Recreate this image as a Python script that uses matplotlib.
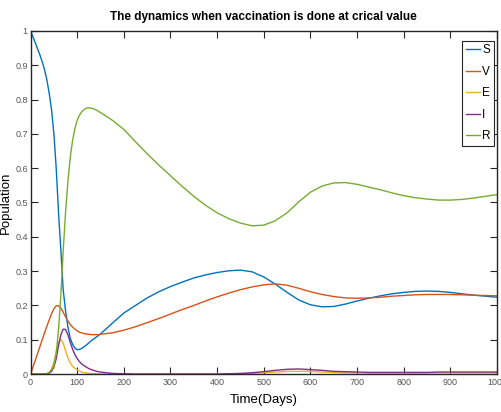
import matplotlib
matplotlib.use("Agg")
import matplotlib.pyplot as plt
import numpy as np

# time points (days)
t = [0, 5, 10, 15, 20, 25, 30, 35, 40, 45, 50, 55, 60, 65, 70, 75, 80, 85, 90, 95,
     100, 105, 110, 115, 120, 125, 130, 135, 140, 145, 150,
     175, 200, 225, 250, 275, 300, 325, 350, 375, 400, 425, 450, 475, 500,
     525, 550, 575, 600, 625, 650, 675, 700, 725, 750, 775, 800, 825, 850,
     875, 900, 925, 950, 975, 1000]

S = [1.0, 0.983, 0.966, 0.948, 0.93, 0.91, 0.887, 0.857, 0.818, 0.77, 0.70, 0.60,
     0.47, 0.36, 0.245, 0.185, 0.138, 0.105, 0.087, 0.076,
     0.071, 0.072, 0.075, 0.08, 0.085, 0.091, 0.097, 0.102, 0.107, 0.112, 0.117,
     0.148, 0.178, 0.2, 0.222, 0.24, 0.255, 0.268, 0.28, 0.289, 0.296, 0.301,
     0.303, 0.298, 0.283, 0.262, 0.238, 0.216, 0.202, 0.196, 0.197, 0.204, 0.213,
     0.221, 0.228, 0.234, 0.238, 0.241, 0.242, 0.241, 0.238, 0.234, 0.23, 0.227,
     0.224]

V = [0.0, 0.02, 0.04, 0.06, 0.08, 0.1, 0.12, 0.14, 0.158, 0.176, 0.19, 0.199,
     0.199, 0.192, 0.18, 0.167, 0.155, 0.145, 0.137, 0.131,
     0.126, 0.122, 0.12, 0.118, 0.117, 0.116, 0.115, 0.115, 0.115, 0.115, 0.116,
     0.12, 0.128, 0.138, 0.15, 0.162, 0.175, 0.188, 0.2, 0.213, 0.225, 0.236,
     0.246, 0.254, 0.26, 0.263, 0.259, 0.25, 0.24, 0.232, 0.226, 0.222, 0.221,
     0.222, 0.224, 0.227, 0.229, 0.231, 0.232, 0.232, 0.232, 0.231, 0.23, 0.229,
     0.228]

E = [0.0, 0.0, 0.0, 0.0, 0.0, 0.0, 0.0, 0.001, 0.005, 0.015, 0.035, 0.065,
     0.092, 0.101, 0.09, 0.068, 0.047, 0.033, 0.023, 0.017,
     0.012, 0.009, 0.006, 0.0045, 0.003, 0.0022, 0.0016, 0.0012, 0.0009, 0.0006,
     0.0004, 0.0001, 0.0, 0.0, 0.0, 0.0, 0.0, 0.0, 0.0, 0.0, 0.0, 0.0,
     0.001, 0.002, 0.004, 0.006, 0.008, 0.008, 0.008, 0.006, 0.005, 0.004, 0.004,
     0.003, 0.003, 0.003, 0.003, 0.003, 0.003, 0.004, 0.004, 0.004, 0.004, 0.004,
     0.004]

I = [0.0, 0.0, 0.0, 0.0, 0.0, 0.0, 0.0, 0.001, 0.003, 0.008, 0.02, 0.045,
     0.083, 0.115, 0.131, 0.13, 0.115, 0.093, 0.073, 0.057,
     0.045, 0.036, 0.029, 0.024, 0.02, 0.016, 0.013, 0.011, 0.009, 0.007, 0.006,
     0.002, 0.001, 0.0, 0.0, 0.0, 0.0, 0.0, 0.0, 0.0, 0.0, 0.001,
     0.002, 0.004, 0.007, 0.011, 0.014, 0.015, 0.013, 0.011, 0.008, 0.007, 0.006,
     0.005, 0.005, 0.005, 0.005, 0.005, 0.005, 0.006, 0.006, 0.006, 0.006, 0.006,
     0.006]

R = [0.0, 0.0, 0.0, 0.0, 0.0, 0.0, 0.0, 0.001, 0.005, 0.012, 0.025, 0.06,
     0.13, 0.23, 0.36, 0.47, 0.56, 0.63, 0.68, 0.715,
     0.74, 0.755, 0.765, 0.771, 0.775, 0.776, 0.775, 0.773, 0.77, 0.766, 0.762,
     0.74, 0.713, 0.677, 0.642, 0.609, 0.578, 0.547, 0.518, 0.492, 0.47, 0.453,
     0.44, 0.432, 0.434, 0.447, 0.47, 0.502, 0.53, 0.548, 0.557, 0.558, 0.553,
     0.545, 0.537, 0.528, 0.52, 0.514, 0.51, 0.507, 0.507, 0.509, 0.513, 0.518,
     0.523]

names = ["S", "V", "E", "I", "R"]
colors = ["#0072BD", "#D95319", "#EDB120", "#7E2F8E", "#77AC30"]

plt.rcParams['font.family'] = ['Liberation Sans', 'DejaVu Sans']

fig = plt.figure(figsize=(5.01, 4.12), dpi=100)
ax = fig.add_axes([0.061, 0.092, 0.931, 0.833])

for name, vals, c in zip(names, [S, V, E, I, R], colors):
    ax.plot(t, vals, color=c, lw=1.0, label=name)

ax.set_xlim(0, 1000)
ax.set_ylim(0, 1)
ax.set_xticks(np.arange(0, 1001, 100))
ax.set_yticks(np.arange(0, 1.01, 0.1))
ax.set_yticklabels(["0"] + ["%.1f" % v for v in np.arange(0.1, 0.95, 0.1)] + ["1"])
ax.tick_params(direction="in", length=5, width=0.8, top=True, right=True,
               labelsize=6.5, labelcolor="#555555", color="#262626", pad=3)
ax.tick_params(axis="y", pad=2)
for sp in ax.spines.values():
    sp.set_color("#262626")
    sp.set_linewidth(1.0)

ax.set_title("The dynamics when vaccination is done at crical value",
             fontsize=8.5, fontweight="bold", pad=8)
ax.set_xlabel("Time(Days)", fontsize=9.5, labelpad=5)
ax.set_ylabel("Population", fontsize=9.5)
ax.yaxis.set_label_coords(-0.04, 0.5)

leg = ax.legend(loc="upper right", fontsize=8.5, handlelength=1.2, handletextpad=0.2,
                borderpad=0.3, labelspacing=0.8, fancybox=False,
                bbox_to_anchor=(0.994, 0.971), borderaxespad=0)
leg.get_frame().set_edgecolor("#262626")
leg.get_frame().set_linewidth(0.8)
leg.get_frame().set_alpha(1)

fig.savefig("out.png", dpi=100)
